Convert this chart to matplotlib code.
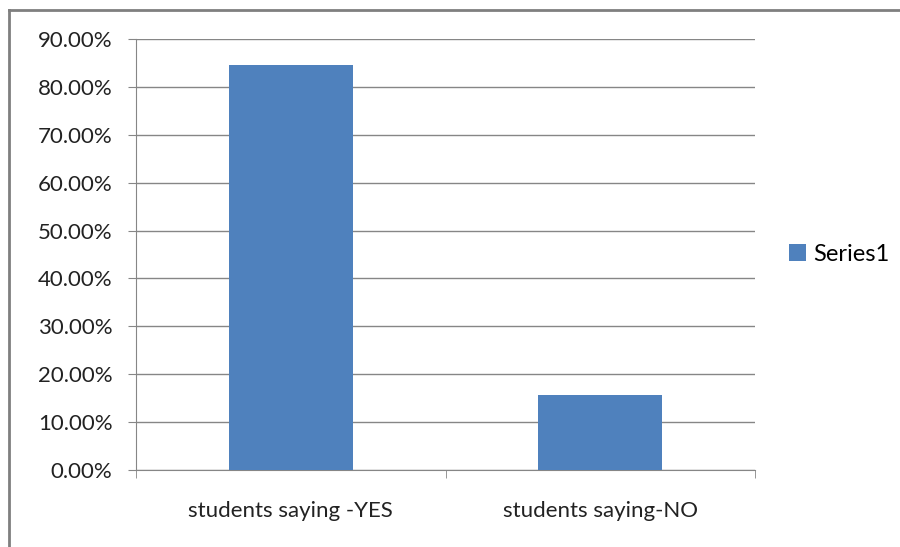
import matplotlib
matplotlib.use("Agg")
import matplotlib.pyplot as plt
from matplotlib.lines import Line2D
from matplotlib.ticker import FuncFormatter

#data
categories = ["students saying -YES", "students saying-NO"]
values = [84.6, 15.6]
series_name = "Series1"
y_ticks = [0, 10, 20, 30, 40, 50, 60, 70, 80, 90]

plt.rcParams["font.family"] = ["Lato", "DejaVu Sans"]

fig = plt.figure(figsize=(9, 5.47), dpi=100)
ax = fig.add_axes([136 / 900, (547 - 470) / 547, (755 - 136) / 900, (470 - 39) / 547])

x = list(range(len(categories)))
ax.bar(x, values, width=0.4, color="#4F81BD", label=series_name, zorder=3)

ax.set_xlim(-0.5, len(categories) - 0.5)
ax.set_ylim(0, 90)
ax.set_yticks(y_ticks)
ax.yaxis.set_major_formatter(FuncFormatter(lambda v, p: f"{v:.2f}%"))
ax.set_xticks(x)
ax.set_xticklabels(categories)
#category boundary ticks like excel
ax.set_xticks([-0.5, 0.5, 1.5], minor=True)
ax.tick_params(axis="x", which="major", length=0, pad=22, labelsize=16, colors="#222222")
ax.tick_params(axis="x", which="minor", length=6, color="#868686")
ax.tick_params(axis="y", length=6, color="#868686", labelcolor="#222222", labelsize=16, pad=11)

ax.grid(axis="y", color="#868686", linewidth=1, zorder=0)
for s in ["top", "right"]:
    ax.spines[s].set_visible(False)
for s in ["left", "bottom"]:
    ax.spines[s].set_color("#868686")

ax.legend(loc="center left", bbox_to_anchor=(1.04, 0.5), frameon=False, fontsize=17,
          handlelength=0.7, handleheight=0.7, handletextpad=0.3, borderaxespad=0)

#outer chart border (only top and left visible in the crop)
fig.add_artist(Line2D([9 / 900, 1], [1 - 10 / 547, 1 - 10 / 547], color="#7f7f7f", lw=2))
fig.add_artist(Line2D([9 / 900, 9 / 900], [0, 1 - 10 / 547], color="#7f7f7f", lw=2))

fig.savefig("out.png", dpi=100, facecolor="white")
